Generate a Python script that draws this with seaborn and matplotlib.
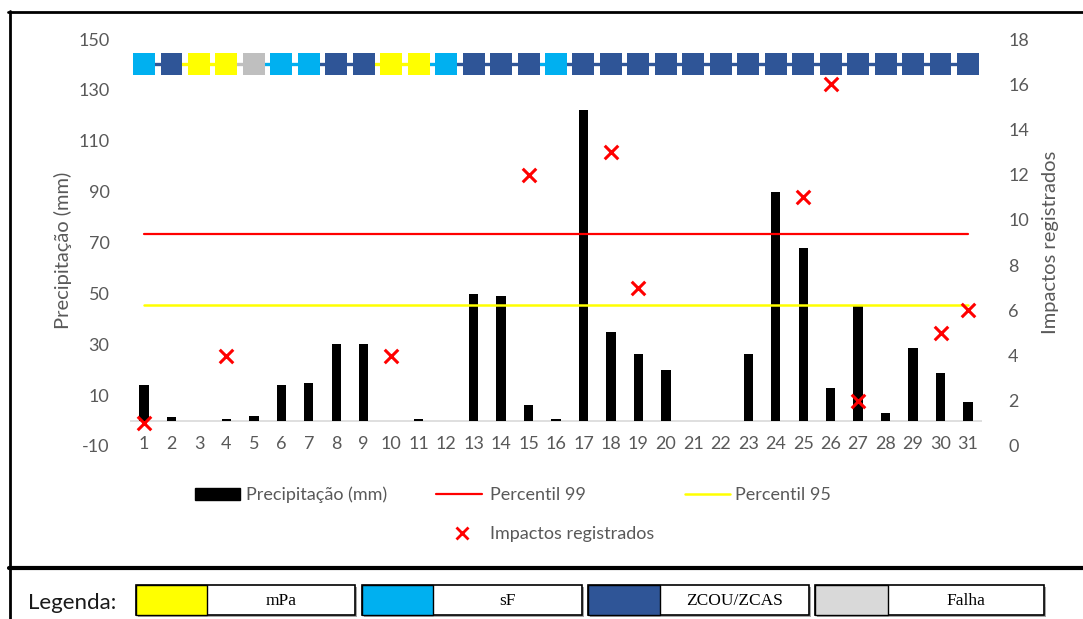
import numpy as np
import pandas as pd
import matplotlib
matplotlib.use("Agg")
import matplotlib.pyplot as plt
import seaborn as sns
from matplotlib.patches import Rectangle, Patch
from matplotlib.lines import Line2D

# ---------------- data ----------------
days = list(range(1, 32))
precip = [14, 1.5, 0, 0.8, 1.7, 14, 14.7, 30, 30, 0, 0.7, 0, 49.8, 49, 6, 0.7,
          122, 35, 26.3, 20, 0, 0, 26.3, 90, 68, 12.8, 45, 2.9, 28.5, 18.7, 7.3]
impact_days = [1, 4, 10, 15, 18, 19, 25, 26, 27, 30, 31]
impact_vals = [1, 4, 4, 12, 13, 7, 11, 16, 2, 5, 6]
p99 = 73.5
p95 = 45.5
regimes = (['sF', 'ZCOU/ZCAS', 'mPa', 'mPa', 'Falha', 'sF', 'sF', 'ZCOU/ZCAS',
            'ZCOU/ZCAS', 'mPa', 'mPa', 'sF', 'ZCOU/ZCAS', 'ZCOU/ZCAS',
            'ZCOU/ZCAS', 'sF'] + ['ZCOU/ZCAS'] * 15)
strip_level = 140
left_ticks = list(range(-10, 151, 20))
right_ticks = list(range(0, 19, 2))
regime_names = ['mPa', 'sF', 'ZCOU/ZCAS', 'Falha']
regime_colors = {'mPa': '#FFFF00', 'sF': '#00B0F0', 'ZCOU/ZCAS': '#2F5597',
                 'Falha': '#BFBFBF'}
legend_colors = {'mPa': '#FFFF00', 'sF': '#00B0F0', 'ZCOU/ZCAS': '#2F5597',
                 'Falha': '#D9D9D9'}

# ---------------- style ----------------
sns.set_theme(style="white")
plt.rcParams['font.family'] = ['Lato', 'DejaVu Sans']
plt.rcParams['axes.unicode_minus'] = False

W, H = 1083, 619
fig = plt.figure(figsize=(W / 100, H / 100), dpi=100)
ax = fig.add_axes([130.3 / W, (H - 446) / H, 851.4 / W, 407 / H])

df = pd.DataFrame({'dia': days, 'prec': precip})
sns.barplot(data=df, x='dia', y='prec', color='black', saturation=1,
            width=0.34, linewidth=0, ax=ax, zorder=3)

pos = np.arange(len(days))
sns.lineplot(x=pos, y=[p99] * len(days), color='#FF0000', linewidth=1.6,
             ax=ax, legend=False, zorder=4)
sns.lineplot(x=pos, y=[p95] * len(days), color='#FFFF00', linewidth=1.8,
             ax=ax, legend=False, zorder=4)

# regime strip
for i in range(1, len(days)):
    ax.plot([pos[i - 1], pos[i]], [strip_level, strip_level],
            color=regime_colors[regimes[i]], lw=2.4, zorder=4,
            solid_capstyle='butt')
sns.scatterplot(x=pos, y=[strip_level] * len(days), hue=regimes,
                palette=regime_colors, marker='s', s=250, linewidth=0,
                legend=False, ax=ax, zorder=5)

ax.axhline(0, color='#D9D9D9', lw=1.2, zorder=2)
ax.set_ylim(-10, 150)
ax.set_yticks(left_ticks)
ax.set_xlim(-0.5, len(days) - 0.5)
ax.set_xlabel('')
ax.set_ylabel('Precipitação (mm)', fontsize=14.5, color='#595959')
ax.yaxis.set_label_coords(-0.0685, 0.48)
ax.tick_params(axis='y', length=0, labelsize=13, colors='#595959', pad=15)
ax.tick_params(axis='x', length=0, labelsize=13, colors='#595959', pad=-7)
for s in ax.spines.values():
    s.set_visible(False)

ax2 = ax.twinx()
imp_pos = [days.index(d) for d in impact_days]
sns.scatterplot(x=imp_pos, y=impact_vals, marker='x', color='#FF0000', s=95,
                linewidth=2.2, ax=ax2, zorder=6, legend=False)
ax2.set_ylim(0, 18)
ax2.set_yticks(right_ticks)
ax2.set_xlim(-0.5, len(days) - 0.5)
ax2.set_ylabel('Impactos registrados', fontsize=14.5, color='#595959')
ax2.yaxis.set_label_coords(1.0708, 0.50)
ax2.tick_params(axis='y', length=0, labelsize=13, colors='#595959', pad=19)
for s in ax2.spines.values():
    s.set_visible(False)

# ---------------- legend ----------------
def leg(handle, label, x, y, hl, htp):
    L = fig.legend(handles=[handle], labels=[label], loc='center left',
                   bbox_to_anchor=(x / W, 1 - y / H), frameon=False,
                   borderpad=0, borderaxespad=0, handlelength=hl,
                   handletextpad=htp, fontsize=13, labelcolor='#595959')
    return L

leg(Patch(facecolor='black', edgecolor='black'), 'Precipitação (mm)', 195, 495, 2.5, 0.3)
leg(Line2D([], [], color='#FF0000', lw=1.6), 'Percentil 99', 436, 495, 2.55, 0.45)
leg(Line2D([], [], color='#FFFF00', lw=1.8), 'Percentil 95', 685, 495, 2.5, 0.28)
leg(Line2D([], [], color='#FF0000', marker='x', ls='none', markersize=9, mew=2),
    'Impactos registrados', 451, 534, 1.2, 0.95)

# ---------------- frame ----------------
tf = fig.transFigure
fig.add_artist(Line2D([8 / W, 1], [1 - 12 / H] * 2, transform=tf, color='black', lw=2))
fig.add_artist(Line2D([9.5 / W] * 2, [0, 1 - 11 / H], transform=tf, color='black', lw=2))
fig.add_artist(Line2D([9 / W, 1], [1 - 568 / H] * 2, transform=tf, color='black', lw=3))

# ---------------- regime key ----------------
fig.text(28 / W, 1 - 603 / H, 'Legenda:', fontsize=16, color='#1a1a1a',
         ha='left', va='center')
boxes = [(136, 207, 355), (362, 433, 582), (588, 660, 809), (815, 888, 1044)]
y_top, y_bot = 585, 615
for (x0, xs, x1), name in zip(boxes, regime_names):
    fig.add_artist(Rectangle(((x0 + 2) / W, 1 - (y_bot + 2) / H), (x1 - x0) / W,
                             (y_bot - y_top) / H, transform=tf,
                             facecolor='#A6A6A6', edgecolor='none'))
    fig.add_artist(Rectangle((x0 / W, 1 - y_bot / H), (x1 - x0) / W,
                             (y_bot - y_top) / H, transform=tf,
                             facecolor='white', edgecolor='black', lw=1.2))
    fig.add_artist(Rectangle((x0 / W, 1 - y_bot / H), (xs - x0) / W,
                             (y_bot - y_top) / H, transform=tf,
                             facecolor=legend_colors[name], edgecolor='black', lw=1.0))
    fig.text(((xs + x1) / 2) / W, 1 - 601 / H, name, fontsize=12.5,
             family='Liberation Serif', color='black', ha='center', va='center')

fig.savefig('out.png', dpi=100)
